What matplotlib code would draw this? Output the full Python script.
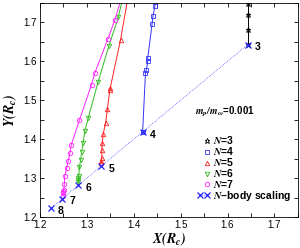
import matplotlib
matplotlib.use('Agg')
import matplotlib.pyplot as plt
from matplotlib.lines import Line2D
from matplotlib.ticker import MultipleLocator
from matplotlib.legend_handler import HandlerLine2D

plt.rcParams['font.family'] = ['Liberation Sans', 'DejaVu Sans']
plt.rcParams['mathtext.fontset'] = 'stix'

# N-body scaling points, labelled by N
nbody_n = [3, 4, 5, 6, 7, 8]
nbody_x = [1.643, 1.419, 1.331, 1.282, 1.248, 1.223]
nbody_y = [1.643, 1.419, 1.331, 1.282, 1.247, 1.222]

# sequences for each N (last point lies above the plot top)
n3_x = [1.643, 1.643, 1.643, 1.643, 1.643]
n3_y = [1.643, 1.680, 1.719, 1.748, 1.780]

n4_x = [1.419, 1.425, 1.427, 1.430, 1.430, 1.439, 1.441, 1.445, 1.448]
n4_y = [1.419, 1.569, 1.579, 1.600, 1.609, 1.695, 1.716, 1.741, 1.780]

n5_x = [1.331, 1.331, 1.332, 1.332, 1.333, 1.335, 1.340, 1.344, 1.349, 1.350, 1.372, 1.390]
n5_y = [1.340, 1.345, 1.351, 1.373, 1.390, 1.414, 1.441, 1.478, 1.526, 1.532, 1.656, 1.780]

n6_x = [1.282, 1.282, 1.282, 1.283, 1.284, 1.287, 1.289, 1.292, 1.296, 1.303, 1.324, 1.347, 1.367, 1.380]
n6_y = [1.291, 1.296, 1.300, 1.306, 1.328, 1.347, 1.368, 1.390, 1.422, 1.454, 1.547, 1.639, 1.713, 1.780]

n7_x = [1.250, 1.250, 1.250, 1.251, 1.252, 1.253, 1.257, 1.260, 1.264, 1.267, 1.284, 1.310, 1.317, 1.345, 1.360, 1.378]
n7_y = [1.255, 1.262, 1.266, 1.270, 1.285, 1.306, 1.325, 1.343, 1.364, 1.386, 1.448, 1.540, 1.570, 1.658, 1.707, 1.780]


# legend handler: one marker only, at the right end of the handle
class RightMarker(HandlerLine2D):
    def create_artists(self, legend, orig_handle, xdescent, ydescent,
                       width, height, fontsize, trans):
        x = -xdescent + width - 0.3 * fontsize
        y = (height - ydescent) / 2
        line = Line2D([x], [y])
        self.update_prop(line, orig_handle, legend)
        line.set_linestyle('none')
        line.set_transform(trans)
        return [line]


fig = plt.figure(figsize=(3.0, 2.48), dpi=100)
ax = fig.add_axes([0.133, 0.125, 0.860, 0.863])

ms = 3.2
l3, = ax.plot(n3_x, n3_y, color='black', marker='*', ms=ms + 0.5, mfc='none', mew=0.6, lw=0.7,
              label=r'$\mathbfit{N}$=3')
l4, = ax.plot(n4_x, n4_y, color='#3333ff', marker='s', ms=ms - 0.3, mfc='none', mew=0.6, lw=0.7,
              label=r'$\mathbfit{N}$=4')
l5, = ax.plot(n5_x, n5_y, color='#ff2222', marker='^', ms=ms, mfc='none', mew=0.6, lw=0.7,
              label=r'$\mathbfit{N}$=5')
l6, = ax.plot(n6_x, n6_y, color='#33bb22', marker='v', ms=ms, mfc='none', mew=0.6, lw=0.7,
              label=r'$\mathbfit{N}$=6')
l7, = ax.plot(n7_x, n7_y, color='#ff22ff', marker='o', ms=ms, mfc='none', mew=0.6, lw=0.7,
              label=r'$\mathbfit{N}$=7')
lnb, = ax.plot(nbody_x, nbody_y, color='#2222ff', marker='x', ms=ms + 0.5, mew=0.9, lw=0.5, ls=':',
               label=r'$\mathbfit{N}$–body scaling')

for n, x, y in zip(nbody_n, nbody_x, nbody_y):
    ax.annotate(str(n), (x, y), xytext=(5, -2), textcoords='offset points',
                fontsize=7.5, fontweight='bold', va='center')

ax.text(0.717, 0.49, r'$\mathbfit{m_p/m_\omega}$=0.001', transform=ax.transAxes,
        fontsize=7, fontweight='bold', ha='center', va='center')

ax.set_xlim(1.2, 1.75)
ax.set_ylim(1.2, 1.75)
ax.xaxis.set_major_locator(MultipleLocator(0.1))
ax.yaxis.set_major_locator(MultipleLocator(0.1))
ax.xaxis.set_minor_locator(MultipleLocator(0.05))
ax.yaxis.set_minor_locator(MultipleLocator(0.05))
ax.tick_params(which='both', direction='in', top=True, right=True, labelsize=7, pad=2.5,
               width=0.6, length=3)
for s in ax.spines.values():
    s.set_linewidth(0.6)

ax.set_xlabel(r'$\mathbfit{X(R_c)}$', fontsize=10, labelpad=0)
ax.set_ylabel(r'$\mathbfit{Y(R_c)}$', fontsize=10, labelpad=3)

right = RightMarker()
leg = ax.legend(handles=[l3, l4, l5, l6, l7, lnb],
                handler_map={l3: right, l4: right, l5: right, l6: right, l7: right},
                loc='lower right', bbox_to_anchor=(0.975, 0.065), frameon=False,
                fontsize=7.5, handlelength=1.3, handletextpad=0.25, labelspacing=-0.1,
                borderaxespad=0, borderpad=0, numpoints=2)
for t in leg.get_texts():
    t.set_fontweight('bold')

fig.savefig('out.png', dpi=100)
